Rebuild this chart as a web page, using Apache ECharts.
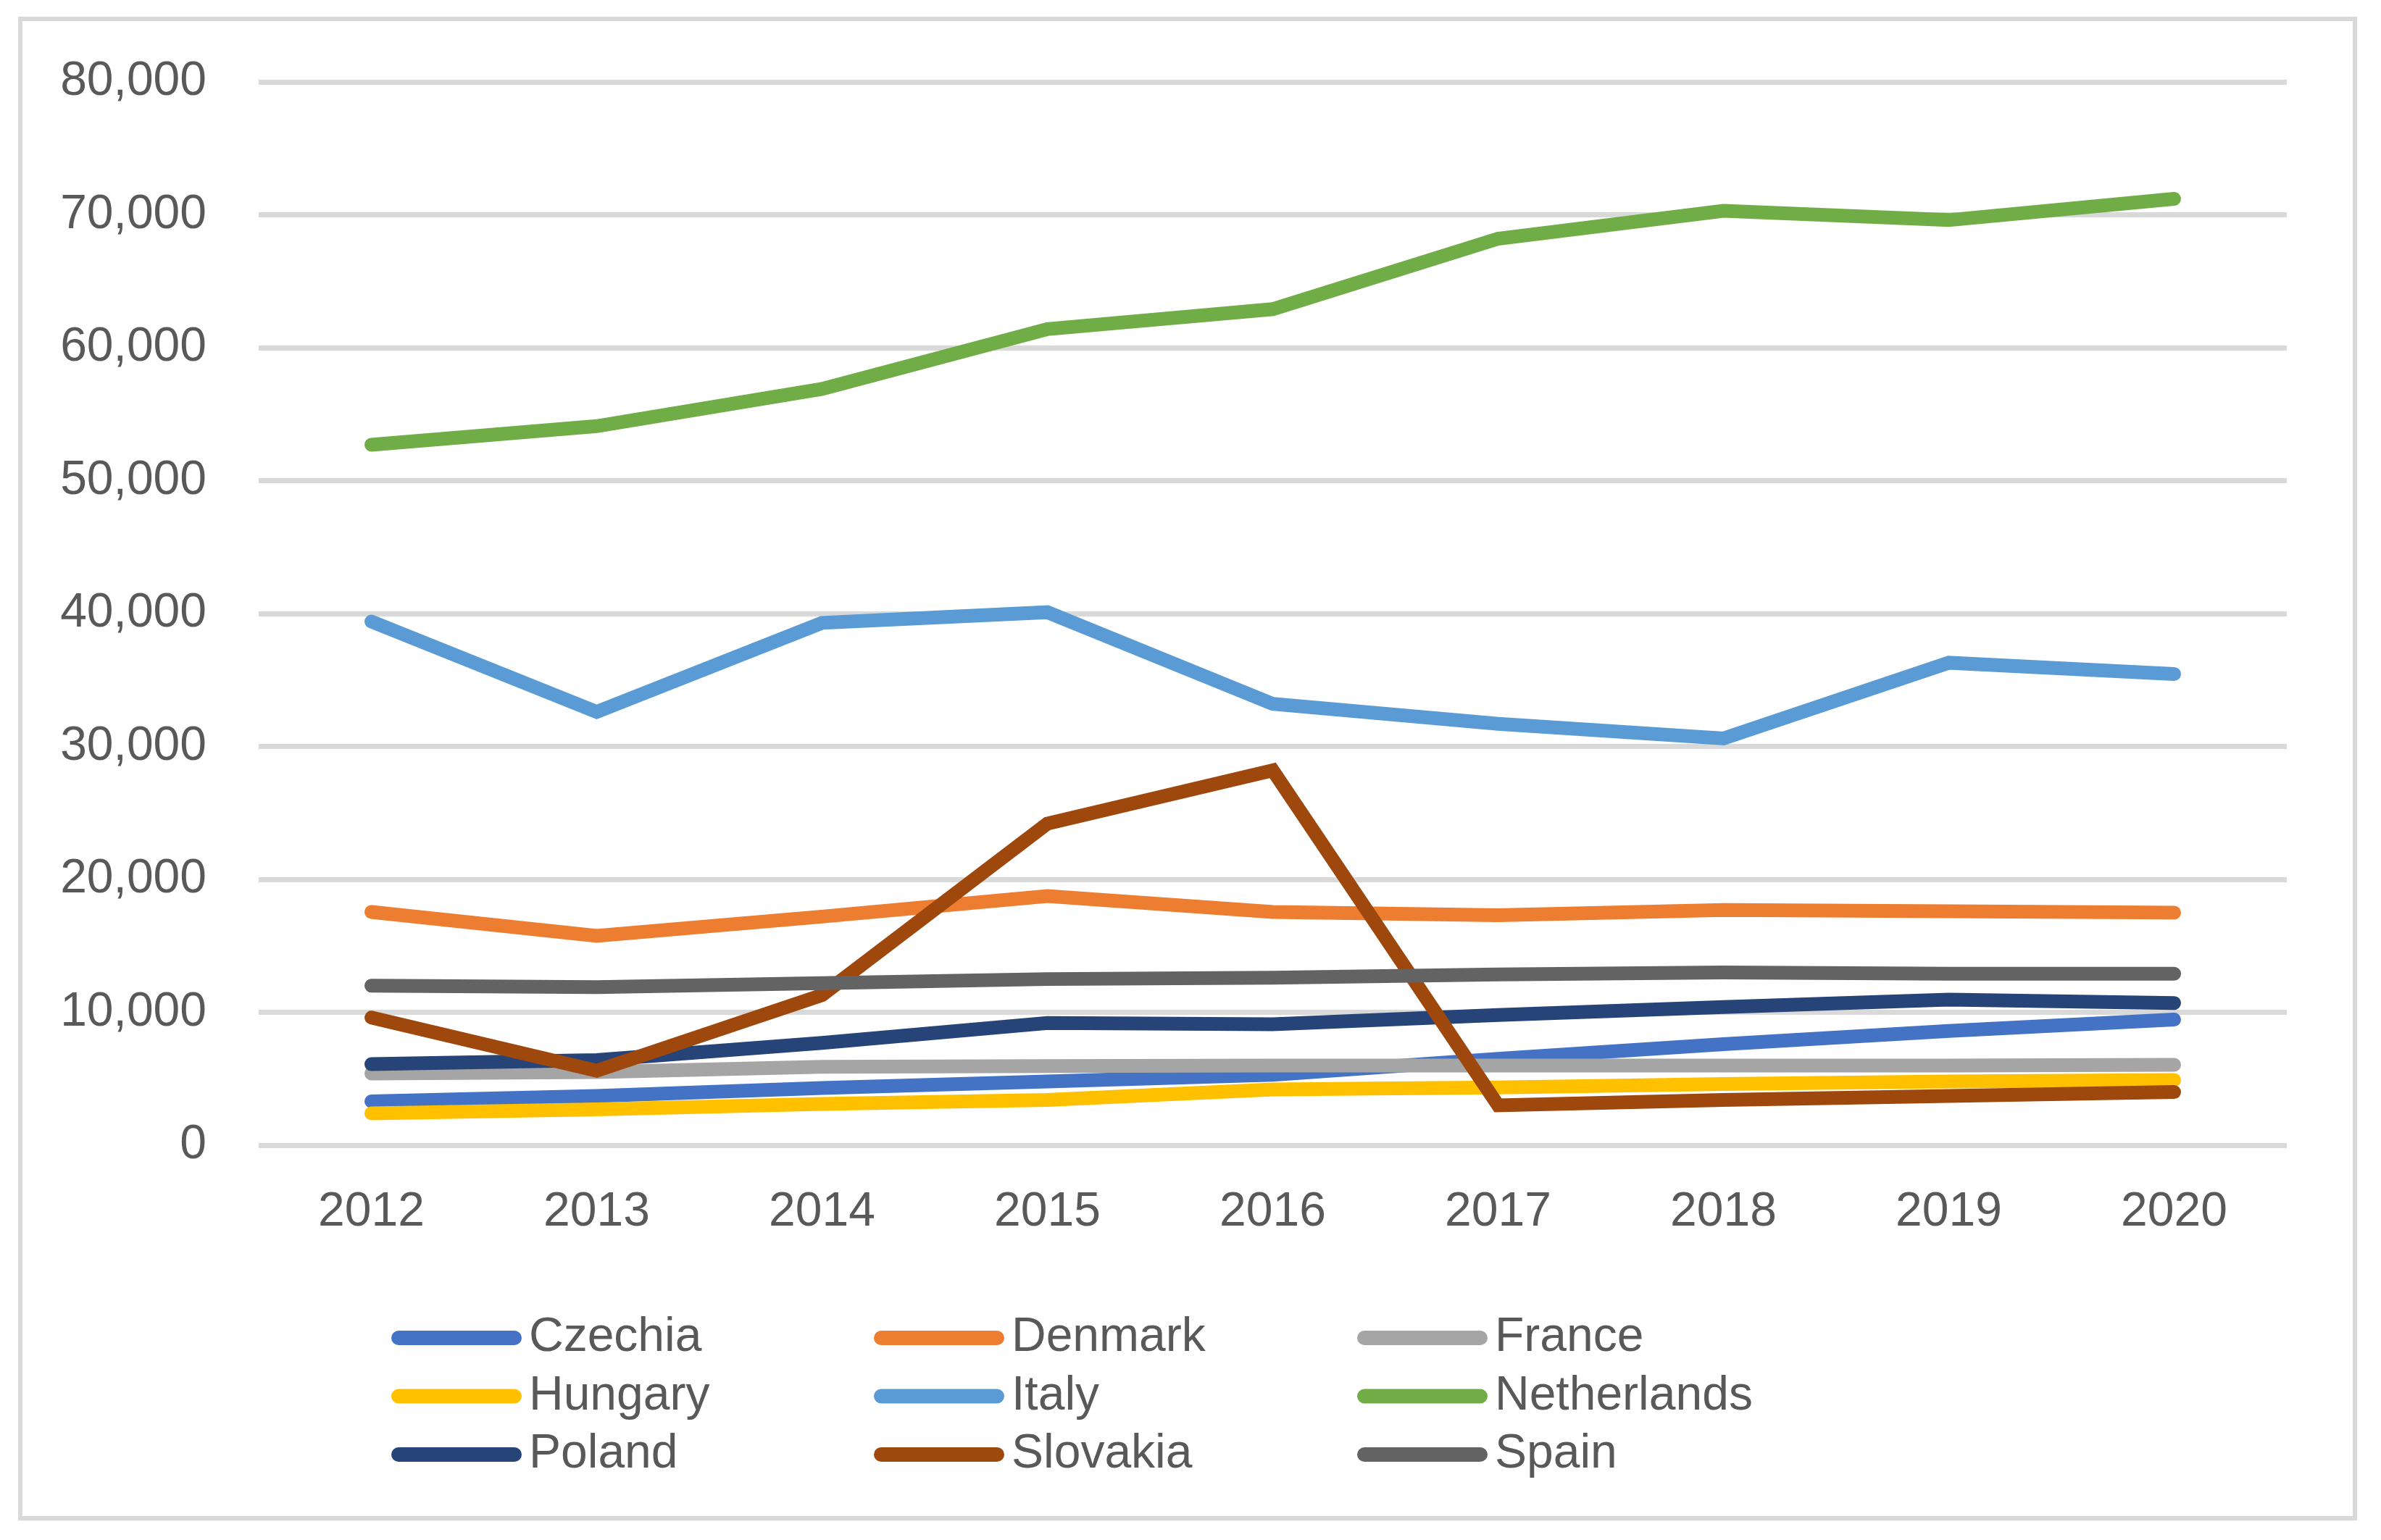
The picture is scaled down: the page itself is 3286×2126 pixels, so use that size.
<!DOCTYPE html>
<html>
<head>
<meta charset="utf-8">
<script src="https://cdn.jsdelivr.net/npm/echarts@6/dist/echarts.min.js"></script>
<style>
html,body{margin:0;padding:0;background:#fff;}
#chart{width:3286px;height:2126px;}
</style>
</head>
<body>
<div id="chart"></div>
<script>
const years = ['2012','2013','2014','2015','2016','2017','2018','2019','2020'];
const czechia     = [3300, 3700, 4300, 4800, 5300, 6500, 7600, 8600, 9450];
const denmark     = [17550, 15750, 17200, 18750, 17550, 17300, 17700, 17600, 17500];
const france      = [5400, 5500, 5900, 5950, 6000, 6000, 6000, 6000, 6050];
const hungary     = [2400, 2700, 3100, 3400, 4200, 4350, 4600, 4800, 4900];
const italy       = [39400, 32600, 39300, 40100, 33200, 31700, 30600, 36300, 35450];
const netherlands = [52700, 54100, 56900, 61400, 62900, 68200, 70300, 69600, 71200];
const poland      = [6100, 6400, 7700, 9200, 9100, 9800, 10400, 10950, 10700];
const slovakia    = [9600, 5600, 11300, 24200, 28200, 3000, 3400, 3700, 4000];
const spain       = [12000, 11900, 12200, 12500, 12600, 12850, 13000, 12900, 12900];
const yTicks = [0, 10000, 20000, 30000, 40000, 50000, 60000, 70000, 80000];

const seriesDefs = [
  ['Czechia', czechia, '#4472C4'],
  ['Denmark', denmark, '#ED7D31'],
  ['France', france, '#A5A5A5'],
  ['Hungary', hungary, '#FFC000'],
  ['Italy', italy, '#5B9BD5'],
  ['Netherlands', netherlands, '#70AD47'],
  ['Poland', poland, '#264478'],
  ['Slovakia', slovakia, '#9E480E'],
  ['Spain', spain, '#636363']
];

const FONT = "'Liberation Sans', Arial, sans-serif";
const TXT = '#595959';
const icon = 'path://M10,0H170A10,10,0,0,1,170,20H10A10,10,0,0,1,10,0Z';

function legendCol(left, names) {
  return {
    orient: 'vertical', left: left, top: 1814, padding: 0,
    itemWidth: 180, itemHeight: 20, itemGap: 14.5,
    icon: icon,
    itemStyle: {borderWidth: 0},
    data: names,
    selectedMode: false,
    textStyle: {fontFamily: FONT, fontSize: 66, color: TXT, lineHeight: 66, padding: [0,0,0,5]}
  };
}

const chart = echarts.init(document.getElementById('chart'), null, {renderer: 'canvas'});
chart.setOption({
  animation: false,
  backgroundColor: '#ffffff',
  graphic: [{
    type: 'rect', left: 25, top: 23, z: -10,
    shape: {width: 3222, height: 2070},
    style: {fill: 'none', stroke: '#D9D9D9', lineWidth: 6}
  }],
  grid: {left: 357, right: 130, top: 113, bottom: 545, containLabel: false},
  legend: [
    legendCol(540, ['Czechia', 'Hungary', 'Poland']),
    legendCol(1206, ['Denmark', 'Italy', 'Slovakia']),
    legendCol(1873, ['France', 'Netherlands', 'Spain'])
  ],
  xAxis: {
    type: 'category', data: years, boundaryGap: true,
    axisLine: {show: false}, axisTick: {show: false},
    axisLabel: {fontFamily: FONT, fontSize: 66, color: TXT, margin: 60}
  },
  yAxis: {
    type: 'value', min: yTicks[0], max: yTicks[yTicks.length-1], interval: yTicks[1]-yTicks[0],
    axisLine: {show: false}, axisTick: {show: false},
    axisLabel: {fontFamily: FONT, fontSize: 66, color: TXT, margin: 72,
      formatter: v => v.toLocaleString('en-US')},
    splitLine: {lineStyle: {color: '#D9D9D9', width: 7}}
  },
  series: seriesDefs.map(([name, data, color]) => ({
    name: name, type: 'line', data: data,
    showSymbol: false, symbol: 'none',
    color: color,
    itemStyle: {color: color},
    lineStyle: {color: color, width: 19, cap: 'round', join: 'miter'}
  }))
});
</script>
</body>
</html>
